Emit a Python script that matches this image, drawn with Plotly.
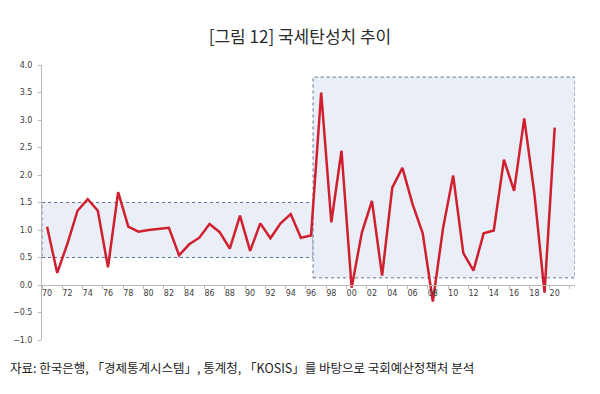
import plotly.graph_objects as go

years = list(range(1970, 2021))
elasticity = [1.06, 0.22, 0.75, 1.35, 1.56, 1.35, 0.32, 1.69, 1.06, 0.97,
              1.00, 1.02, 1.04, 0.54, 0.74, 0.86, 1.11, 0.96, 0.66, 1.26,
              0.62, 1.12, 0.85, 1.12, 1.29, 0.86, 0.90, 3.50, 1.14, 2.44,
              -0.05, 0.95, 1.53, 0.17, 1.77, 2.13, 1.47, 0.94, -0.30, 1.03,
              1.99, 0.58, 0.26, 0.94, 0.99, 2.28, 1.71, 3.03, 1.66, -0.14,
              2.86]
tick_years = list(range(1970, 2021, 2))
tick_labels = ["70", "72", "74", "76", "78", "80", "82", "84", "86", "88",
               "90", "92", "94", "96", "98", "00", "02", "04", "06", "08",
               "10", "12", "14", "16", "18", "20"]
y_ticks = [-1.0, -0.5, 0.0, 0.5, 1.0, 1.5, 2.0, 2.5, 3.0, 3.5, 4.0]
# highlighted ranges: (x start, x end, y low, y high)
band_x0 = [1969.5, 1996.2]
band_x1 = [1996.2, 2022.0]
band_y0 = [0.5, 0.13]
band_y1 = [1.5, 3.78]

title_text = "[그림 12] 국세탄성치 추이"
source_text = "자료: 한국은행, 「경제통계시스템」, 통계청, 「KOSIS」를 바탕으로 국회예산정책처 분석"

fig = go.Figure()
fig.add_trace(go.Scatter(
    x=years, y=elasticity, mode="lines",
    line=dict(color="#d01f2e", width=2.5),
    hoverinfo="x+y", showlegend=False,
))

for x0, x1, y0, y1 in zip(band_x0, band_x1, band_y0, band_y1):
    fig.add_shape(type="rect", xref="x", yref="y", x0=x0, x1=x1, y0=y0, y1=y1,
                  fillcolor="#eaeff7", line=dict(color="#5a6d94", width=1, dash="dot"),
                  layer="below")

tick_font = dict(family="DejaVu Sans", size=8, color="#404040")

fig.update_layout(
    width=600, height=394,
    margin=dict(l=42, r=25, t=65, b=53.5),
    paper_bgcolor="white", plot_bgcolor="white",
    title=dict(text=title_text, x=0.5, xref="container", xanchor="center",
               y=1 - 37 / 394, yref="container", yanchor="middle",
               font=dict(family="Noto Sans CJK KR", size=17, color="#2a2a2a")),
    xaxis=dict(range=[1969.5, 2022.0], tickmode="array", tickvals=tick_years,
               ticktext=tick_labels, ticks="", showgrid=False, zeroline=False,
               showline=True, linecolor="#b8b8b8", linewidth=1,
               anchor="free", position=0.2, tickfont=tick_font,
               minor=dict(tickmode="linear", tick0=1971.5, dtick=2, ticks="outside",
                          ticklen=3, tickcolor="#b8b8b8", showgrid=False)),
    yaxis=dict(range=[-1.0, 4.0], tickmode="array", tickvals=y_ticks,
               tickformat=".1f", ticks="outside", ticklen=3, tickcolor="#b8b8b8",
               showgrid=False, zeroline=False, showline=True,
               linecolor="#b8b8b8", linewidth=1, tickfont=tick_font,
               ticklabelstandoff=4),
    annotations=[dict(text=source_text, xref="paper", yref="paper",
                      x=(8 - 42) / 533, y=-(368 - 340.5) / 275.5,
                      xanchor="left", yanchor="middle", showarrow=False,
                      font=dict(family="Noto Sans CJK KR", size=12.5, color="#222222"))],
)

fig.write_html("out.html", config={"displayModeBar": False},
               post_script="document.body.style.margin='0';document.body.style.padding='0';")
